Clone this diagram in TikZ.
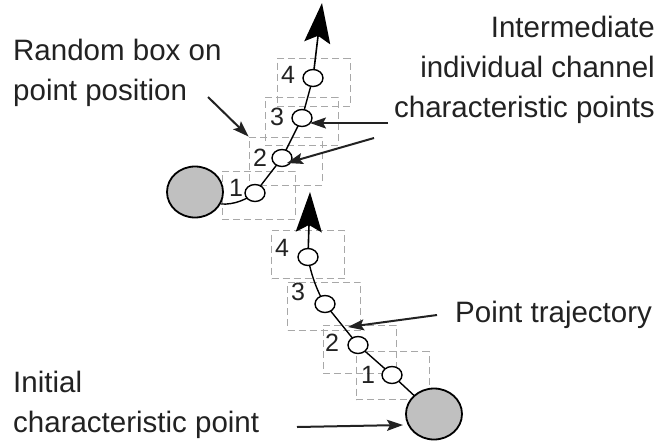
\documentclass[tikz,border=0pt]{standalone}
\usepackage{fontspec}
\setmainfont{Liberation Sans}
\usetikzlibrary{arrows.meta,shapes.geometric}
\definecolor{txt}{HTML}{222222}
\definecolor{fillgray}{HTML}{C0C0C0}
\definecolor{boxgray}{HTML}{A8A8A8}
\pgfdeclarelayer{bg}
\pgfdeclarelayer{mid}
\pgfsetlayers{bg,mid,main}
\begin{document}
\begin{tikzpicture}[x=1pt,y=-1pt,
 lbl/.style={font=\fontsize{29.5}{40}\selectfont, text=txt, inner sep=0pt},
 num/.style={font=\fontsize{25}{28}\selectfont, text=txt, inner sep=0pt},
 bigpt/.style={ellipse, draw=black, line width=1.8pt, fill=fillgray, minimum width=56pt, minimum height=51pt, inner sep=0pt},
 smallpt/.style={ellipse, draw=black, line width=1.4pt, fill=white, minimum width=20pt, minimum height=17pt, inner sep=0pt},
 rbox/.style={draw=boxgray, dash pattern=on 7pt off 4pt, line width=0.9pt, minimum width=73pt, minimum height=48pt, inner sep=0pt},
 traj/.style={line width=1.4pt},
 callout/.style={line width=2pt, draw=txt, -{Stealth[length=16pt,width=11pt,inset=3pt]}},
 bigarrow/.style={line width=1.6pt, -{Stealth[length=40pt,width=26pt,inset=7pt]}}
]
\useasboundingbox (0,0) rectangle (664,445);
% random boxes
\begin{pgfonlayer}{bg}
\fill[white] (0,0) rectangle (664,445);
\node[rbox] (b1u) at (258.5,195) {};
\node[rbox] (b2u) at (285.5,161) {};
\node[rbox] (b3u) at (301.5,121) {};
\node[rbox] (b4u) at (313.5,82.5) {};
\node[rbox] (b4l) at (308,254.5) {};
\node[rbox] (b3l) at (324,306) {};
\node[rbox] (b2l) at (359.5,349) {};
\node[rbox] (b1l) at (392.5,375.5) {};
\end{pgfonlayer}
% points, upper trajectory
\node[bigpt] (e0u) at (195,192) {};
\node[smallpt] (p1u) at (255,193) {};
\node[smallpt] (p2u) at (282,158) {};
\node[smallpt] (p3u) at (302,118) {};
\node[smallpt] (p4u) at (313,78) {};
\coordinate (tipu) at (322,3);
% points, lower trajectory
\node[bigpt] (e0l) at (434,414) {};
\node[smallpt] (p1l) at (392,375) {};
\node[smallpt] (p2l) at (358,345) {};
\node[smallpt] (p3l) at (325,304) {};
\node[smallpt] (p4l) at (308,257) {};
\coordinate (tipl) at (310,192);
% trajectories
\begin{pgfonlayer}{mid}
\draw[traj] (e0u.-25) .. controls +(14,1) and +(-8,6) .. (p1u.center) -- (p2u.center) -- (p3u.center) -- (p4u.center);
\draw[traj] (e0l.center) -- (p1l.center) -- (p2l.center) -- (p3l.center) .. controls +(-8,-12) and +(2,14) .. (p4l.center);
\end{pgfonlayer}
\draw[bigarrow] (p4u) -- (tipu);
\draw[bigarrow] (p4l) -- (tipl);
% numbers
\node[num] (n1u) at (236,188) {1};
\node[num] (n2u) at (260,158) {2};
\node[num] (n3u) at (277,117) {3};
\node[num] (n4u) at (288,75) {4};
\node[num] (n1l) at (368,375) {1};
\node[num] (n2l) at (332,343) {2};
\node[num] (n3l) at (298,292) {3};
\node[num] (n4l) at (282,248) {4};
% labels
\node[lbl, anchor=north west, align=left] (lrand) at (13,39) {Random box on\\point position};
\node[lbl, anchor=north east, align=right] (linter) at (655,16) {Intermediate\\individual channel\\characteristic points};
\node[lbl, anchor=base west] (ltraj) at (455,322) {Point trajectory};
\node[lbl, anchor=north west, align=left] (linit) at (13,371) {Initial\\characteristic point};
% callout arrows
\coordinate (crand) at (208,97);
\coordinate (ci1) at (388,123);
\coordinate (ci1t) at (310,123);
\coordinate (ci2) at (374,138);
\coordinate (ci2t) at (287,163);
\coordinate (ctraj) at (437,315);
\coordinate (ctrajt) at (348,327);
\coordinate (cinit) at (297,427);
\coordinate (cinitt) at (403,425);
\draw[callout] (crand) -- (b2u.north west);
\draw[callout] (ci1) -- (ci1t);
\draw[callout] (ci2) -- (ci2t);
\draw[callout] (ctraj) -- (ctrajt);
\draw[callout] (cinit) -- (cinitt);
\end{tikzpicture}
\end{document}
